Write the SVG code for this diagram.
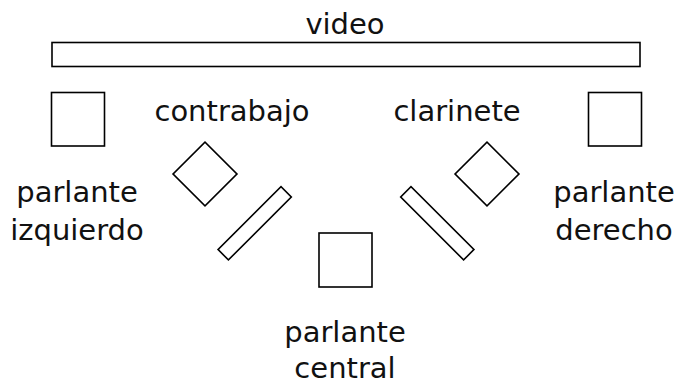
<svg xmlns="http://www.w3.org/2000/svg" width="679" height="385" viewBox="0 0 679 385">
<style>
.s{fill:#fff;stroke:#000;stroke-width:1.6}
text{font-family:"DejaVu Sans",Verdana,sans-serif;font-size:29px;fill:#111;text-anchor:middle}
</style>
<rect width="679" height="385" fill="#fff"/>
<g id="video">
<rect class="s" x="52" y="42.5" width="588" height="24"/>
<text x="345" y="34">video</text>
</g>
<g id="parlante-izquierdo">
<rect class="s" x="51.5" y="92.5" width="53" height="53.5"/>
<text x="77" y="202">parlante</text>
<text x="77" y="240">izquierdo</text>
</g>
<g id="parlante-derecho">
<rect class="s" x="588.5" y="92.5" width="53" height="53.5"/>
<text x="614" y="202">parlante</text>
<text x="614" y="240">derecho</text>
</g>
<g id="parlante-central">
<rect class="s" x="319" y="233" width="53" height="54"/>
<text x="345" y="342">parlante</text>
<text x="345" y="378">central</text>
</g>
<g id="contrabajo">
<rect class="s" x="-22.6" y="-22.6" width="45.2" height="45.2" transform="translate(205,174) rotate(45)"/>
<text x="232" y="121">contrabajo</text>
</g>
<g id="clarinete">
<rect class="s" x="-22.6" y="-22.6" width="45.2" height="45.2" transform="translate(487,174) rotate(45)"/>
<text x="457" y="121">clarinete</text>
</g>
<g id="atril-izquierdo">
<rect class="s" x="-44.5" y="-7.3" width="89" height="14.6" transform="translate(254.7,223.3) rotate(-45)"/>
</g>
<g id="atril-derecho">
<rect class="s" x="-44.5" y="-7.3" width="89" height="14.6" transform="translate(437.3,223.3) rotate(45)"/>
</g>
<g id="connectors"></g>
</svg>
